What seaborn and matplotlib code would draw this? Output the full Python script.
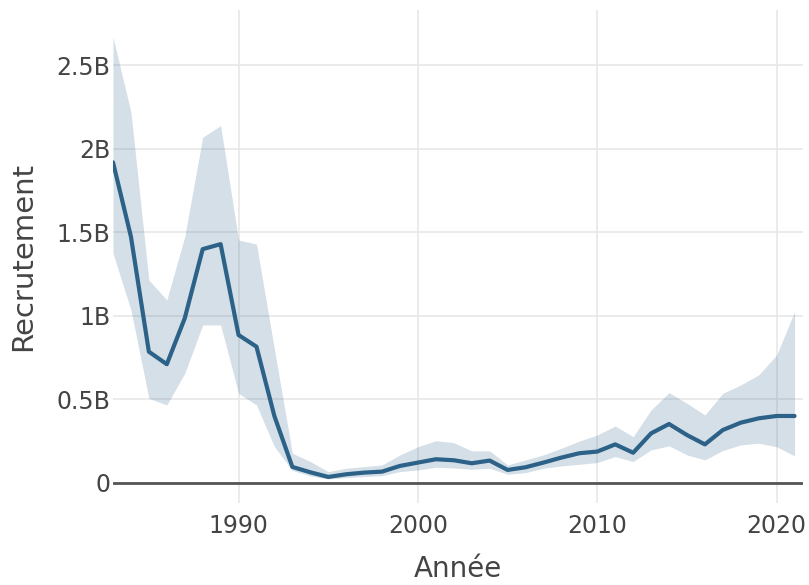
import numpy as np
import pandas as pd
import matplotlib
matplotlib.use("Agg")
import matplotlib.pyplot as plt
import seaborn as sns
from matplotlib.ticker import FuncFormatter

# Recruitment estimates (billions of individuals) with uncertainty band
years = list(range(1983, 2022))
recrutement = [
    1.92, 1.475, 0.786, 0.711, 0.986, 1.40, 1.43, 0.886, 0.816, 0.40,
    0.096, 0.064, 0.036, 0.052, 0.062, 0.068, 0.102, 0.122, 0.142, 0.136,
    0.118, 0.134, 0.078, 0.094, 0.122, 0.152, 0.178, 0.188, 0.231, 0.181,
    0.297, 0.353, 0.287, 0.231, 0.317, 0.361, 0.387, 0.401, 0.401,
]
borne_sup = [
    2.67, 2.22, 1.215, 1.096, 1.475, 2.07, 2.14, 1.455, 1.43, 0.80,
    0.178, 0.128, 0.068, 0.088, 0.098, 0.108, 0.168, 0.217, 0.253, 0.241,
    0.192, 0.192, 0.108, 0.138, 0.168, 0.208, 0.251, 0.287, 0.341, 0.277,
    0.437, 0.541, 0.477, 0.407, 0.537, 0.587, 0.647, 0.766, 1.026,
]
borne_inf = [
    1.375, 1.036, 0.507, 0.467, 0.657, 0.946, 0.946, 0.537, 0.467, 0.217,
    0.075, 0.042, 0.024, 0.032, 0.038, 0.044, 0.068, 0.078, 0.094, 0.090,
    0.082, 0.088, 0.052, 0.062, 0.088, 0.102, 0.112, 0.122, 0.158, 0.128,
    0.198, 0.222, 0.168, 0.138, 0.194, 0.228, 0.238, 0.217, 0.162,
]

df = pd.DataFrame({
    "Année": years,
    "Recrutement": np.array(recrutement) * 1e9,
    "sup": np.array(borne_sup) * 1e9,
    "inf": np.array(borne_inf) * 1e9,
})

sns.set_theme(style="whitegrid")
plt.rcParams["font.family"] = ["DejaVu Sans"]

line_color = "#2c6188"
text_color = "#444444"

fig = plt.figure(figsize=(8.09, 5.85), dpi=100)
ax = fig.add_axes([113 / 809, (585 - 503) / 585, (803 - 113) / 809, (503 - 10) / 585])

ax.fill_between(df["Année"], df["inf"], df["sup"], color=line_color,
                alpha=0.2, linewidth=0, zorder=2)
sns.lineplot(data=df, x="Année", y="Recrutement", ax=ax, color=line_color,
             linewidth=3, zorder=3)

ax.axhline(0, color="#555555", linewidth=2, zorder=2.5)

ax.set_xlim(1983, 2021.47)
ax.set_ylim(-0.12e9, 2.832e9)
ax.set_xticks([1990, 2000, 2010, 2020])
ax.set_yticks([0, 0.5e9, 1e9, 1.5e9, 2e9, 2.5e9])


def fmt_b(v, pos):
    if v == 0:
        return "0"
    return f"{v / 1e9:g}B"


ax.yaxis.set_major_formatter(FuncFormatter(fmt_b))

ax.grid(True, color="#e8e8e8", linewidth=1.2)
for side in ax.spines.values():
    side.set_visible(False)
ax.set_facecolor("white")
ax.tick_params(axis="both", length=0, labelsize=17, labelcolor=text_color)
ax.tick_params(axis="y", pad=2)
ax.tick_params(axis="x", pad=8)

ax.set_xlabel("Année", fontsize=20, color=text_color, labelpad=12)
ax.set_ylabel("Recrutement", fontsize=21, color=text_color, labelpad=14)

fig.savefig("out.png", dpi=100, facecolor="white")
